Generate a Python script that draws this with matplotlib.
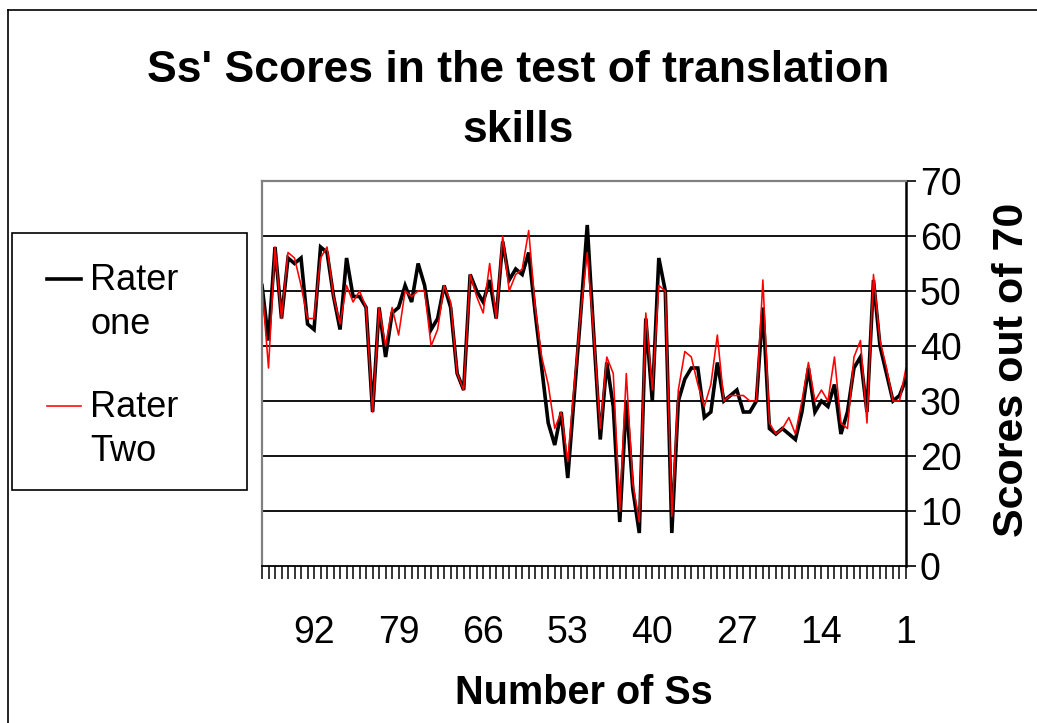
import numpy as np
import matplotlib
matplotlib.use("Agg")
import matplotlib.pyplot as plt
from matplotlib.lines import Line2D
from matplotlib.patches import Rectangle
from matplotlib.transforms import Affine2D
from matplotlib.legend_handler import HandlerLine2D

plt.rcParams['font.family'] = ['Liberation Sans', 'DejaVu Sans']

# subjects run from 100 (left) down to 1 (right), values listed left to right
subjects = np.arange(100, 0, -1)
rater_one = [51, 41, 58, 45, 56, 55, 56, 44, 43, 58,
             57, 49, 43, 56, 49, 49, 47, 28, 47, 38,
             46, 47, 51, 48, 55, 51, 43, 45, 51, 47,
             35, 32, 53, 50, 48, 52, 45, 59, 52, 54,
             53, 57, 46, 36, 26, 22, 28, 16, 31, 46,
             62, 42, 23, 37, 29, 8, 30, 14, 6, 45,
             30, 56, 50, 6, 30, 34, 36, 36, 27, 28,
             37, 30, 31, 32, 28, 28, 30, 47, 25, 24,
             25, 24, 23, 28, 36, 28, 30, 29, 33, 24,
             28, 36, 38, 28, 52, 40, 35, 30, 31, 34]
rater_two = [51, 36, 58, 45, 57, 56, 51, 45, 45, 56,
             58, 49, 44, 51, 48, 50, 47, 28, 47, 40,
             47, 42, 50, 49, 50, 50, 40, 43, 51, 48,
             35, 32, 53, 49, 46, 55, 45, 60, 50, 53,
             54, 61, 47, 38, 33, 25, 28, 19, 33, 46,
             57, 42, 25, 38, 35, 10, 35, 15, 8, 46,
             32, 51, 50, 9, 32, 39, 38, 33, 29, 33,
             42, 30, 31, 31, 31, 30, 30, 52, 26, 24,
             25, 27, 24, 30, 37, 30, 32, 30, 38, 26,
             25, 38, 41, 26, 53, 41, 36, 30, 30, 36]
labelled = [92, 79, 66, 53, 40, 27, 14, 1]
y_ticks = [0, 10, 20, 30, 40, 50, 60, 70]


class FirstLineHandler(HandlerLine2D):
    # put the legend line next to the first line of a two-line label
    def create_artists(self, legend, orig_handle, xdescent, ydescent, width, height, fontsize, trans):
        artists = super().create_artists(legend, orig_handle, xdescent, ydescent,
                                         width, height, fontsize, trans)
        for a in artists:
            a.set_transform(Affine2D().translate(0, 17.5) + trans)
        return artists


W, H = 1037, 723
fig = plt.figure(figsize=(W / 100, H / 100), dpi=100)
ax = fig.add_axes([262 / W, 1 - 566 / H, 644 / W, 385 / H])

ax.plot(subjects, rater_one, color='black', lw=2.6, label='Rater\none', solid_joinstyle='miter')
ax.plot(subjects, rater_two, color='#ff0000', lw=1.15, label='Rater\nTwo')

ax.set_xlim(100, 1)
ax.set_ylim(0, 70)
ax.set_yticks(y_ticks)
ax.yaxis.tick_right()
ax.tick_params(axis='y', which='both', direction='out', length=7, width=1.2,
               labelsize=27, pad=3, left=False, right=True)
ax.set_xticks(range(1, 101))
ax.set_xticklabels([str(s) if s in labelled else '' for s in range(1, 101)])
ax.tick_params(axis='x', direction='out', length=9.5, width=1.1, labelsize=27, pad=26)

for v in y_ticks[1:-1]:
    ax.axhline(v, color='black', lw=1.3, zorder=0)

ax.spines['top'].set_color('#808080')
ax.spines['top'].set_linewidth(1.6)
ax.spines['left'].set_color('#808080')
ax.spines['left'].set_linewidth(1.6)
ax.spines['right'].set_linewidth(1.8)
ax.spines['bottom'].set_linewidth(1.3)

fig.text(0.5, 1 - 50 / H, "Ss' Scores in the test of translation\nskills",
         ha='center', va='top', fontsize=32, fontweight='bold', linespacing=1.58)
fig.text(584 / W, 1 - 693 / H, 'Number of Ss', ha='center', va='center',
         fontsize=28.5, fontweight='bold')
fig.text(1012 / W, 1 - 370 / H, 'Scores out of 70', ha='center', va='center',
         rotation=90, fontsize=31, fontweight='bold')

# legend frame and entries
fig.add_artist(Rectangle((12 / W, 1 - 490 / H), 235 / W, 257 / H, transform=fig.transFigure,
                         fill=False, edgecolor='black', lw=1.2))
leg = fig.legend(loc='upper left', bbox_to_anchor=(47 / W, 1 - 263 / H), frameon=False,
                 fontsize=26, borderpad=0, handlelength=0.95, handletextpad=0.25,
                 labelspacing=1.35, borderaxespad=0,
                 handler_map={Line2D: FirstLineHandler()})
for t in leg.get_texts():
    t.set_linespacing(1.32)

# outer chart border
fig.add_artist(Line2D([8 / W, 8 / W], [0, 1 - 10 / H], transform=fig.transFigure, color='black', lw=1.2))
fig.add_artist(Line2D([8 / W, 1], [1 - 10 / H, 1 - 10 / H], transform=fig.transFigure, color='black', lw=1.2))

fig.savefig('out.png', dpi=100)
